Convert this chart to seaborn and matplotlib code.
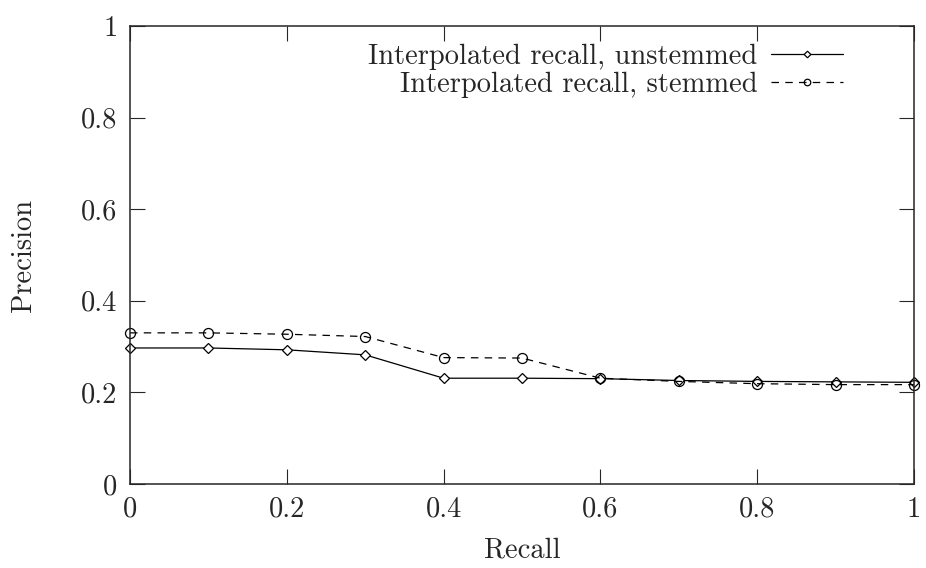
import matplotlib
matplotlib.use("Agg")
import matplotlib.pyplot as plt
import seaborn as sns
import pandas as pd

recall = [0.0, 0.1, 0.2, 0.3, 0.4, 0.5, 0.6, 0.7, 0.8, 0.9, 1.0]
unstemmed = [0.297, 0.297, 0.293, 0.282, 0.231, 0.231, 0.230, 0.226, 0.224, 0.223, 0.222]
stemmed = [0.330, 0.330, 0.327, 0.322, 0.276, 0.275, 0.231, 0.224, 0.219, 0.217, 0.217]
label_unstemmed = "Interpolated recall, unstemmed"
label_stemmed = "Interpolated recall, stemmed"
tick_vals = [0, 0.2, 0.4, 0.6, 0.8, 1.0]
tick_labels = ["0", "0.2", "0.4", "0.6", "0.8", "1"]

sns.set_style("ticks")
plt.rcParams["font.family"] = ["cmr10", "DejaVu Serif"]
plt.rcParams["mathtext.fontset"] = "cm"
plt.rcParams["axes.formatter.use_mathtext"] = True

df = pd.DataFrame({"recall": recall * 2,
                   "precision": unstemmed + stemmed,
                   "series": [label_unstemmed] * len(recall) + [label_stemmed] * len(recall)})

FS = 20.5
fig = plt.figure(figsize=(9.26, 5.68), dpi=100)
ax = fig.add_axes([130 / 926, 1 - 484 / 568, (914 - 130) / 926, (484 - 26) / 568])

sns.lineplot(data=df[df.series == label_unstemmed], x="recall", y="precision", ax=ax,
             color="black", lw=0.9, marker="D", markersize=5.2, markerfacecolor="white",
             markeredgecolor="black", markeredgewidth=0.9, label=label_unstemmed, clip_on=False)
sns.lineplot(data=df[df.series == label_stemmed], x="recall", y="precision", ax=ax,
             color="black", lw=0.9, marker="o", markersize=7.2, markerfacecolor="none",
             markeredgecolor="black", markeredgewidth=0.9, dashes=(6, 5),
             label=label_stemmed, clip_on=False)

ax.set_xlim(0, 1)
ax.set_ylim(0, 1)
ax.set_xticks(tick_vals)
ax.set_xticklabels(tick_labels)
ax.set_yticks(tick_vals)
ax.set_yticklabels(tick_labels)
ax.tick_params(direction="in", length=11, width=0.8, top=True, right=True,
               labelsize=FS, pad=9)
for s in ax.spines.values():
    s.set_linewidth(1.1)
    s.set_visible(True)
ax.set_xlabel("Recall", fontsize=FS, labelpad=10)
ax.set_ylabel("Precision", fontsize=FS, labelpad=32)

leg = ax.legend(loc="upper right", frameon=False, markerfirst=False, fontsize=FS,
                handlelength=2.5, markerscale=0.65, borderaxespad=0, borderpad=0,
                bbox_to_anchor=(0.909, 0.961),
                labelspacing=0.05, handletextpad=0.5)
for t in leg.get_texts():
    t.set_ha("right")
leg._legend_box.align = "right"

fig.savefig("out.png", dpi=100)
